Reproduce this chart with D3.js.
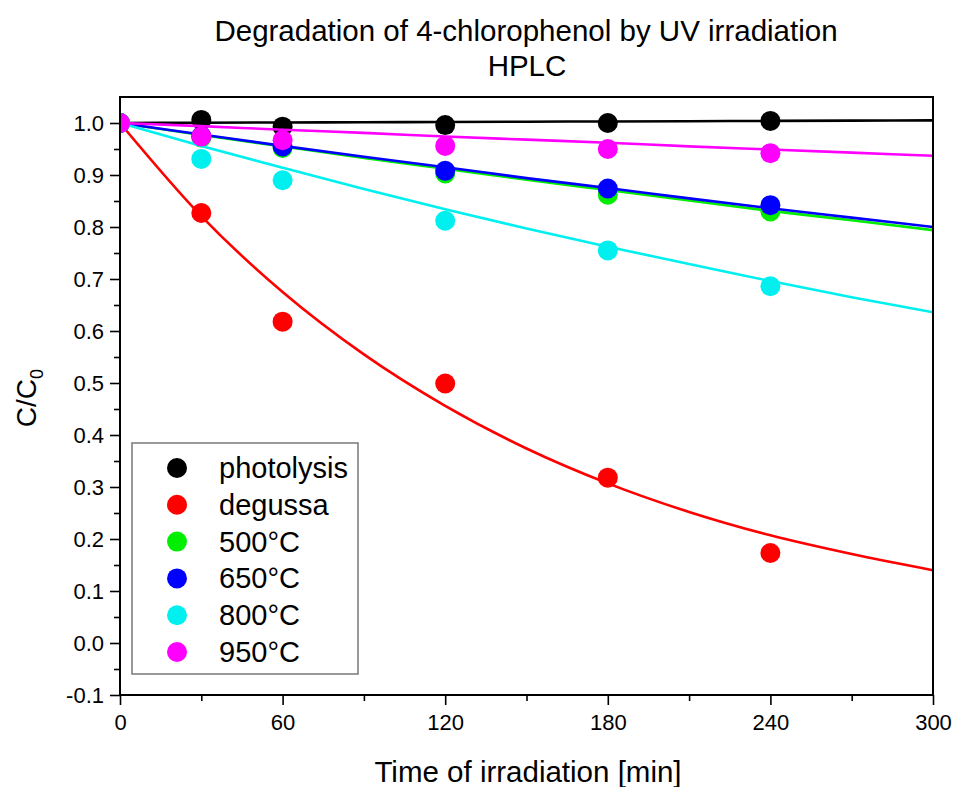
<!DOCTYPE html>
<html>
<head>
<meta charset="utf-8">
<script src="https://cdn.jsdelivr.net/npm/d3@7"></script>
<style>
  html, body { margin: 0; padding: 0; background: #fff; }
  svg { display: block; font-family: "Liberation Sans", Arial, sans-serif; }
</style>
</head>
<body>
<svg id="chart" width="957" height="787"></svg>
<script>
// Sampling times [min]
const times = [0, 30, 60, 120, 180, 240];

// Measured C/C0 for each sample
const photolysis = [1.0, 1.006, 0.993, 0.996, 1.0, 1.004];
const degussa    = [1.0, 0.827, 0.618, 0.499, 0.318, 0.173];
const t500       = [1.0, 0.972, 0.952, 0.903, 0.862, 0.830];
const t650       = [1.0, 0.975, 0.955, 0.908, 0.874, 0.842];
const t800       = [1.0, 0.931, 0.890, 0.812, 0.755, 0.686];
const t950       = [1.0, 0.974, 0.967, 0.956, 0.950, 0.942];

// Kinetic fit curves, sampled along time
const fitTimes      = [0, 30, 60, 90, 120, 150, 180, 210, 240, 270, 300];
const fitPhotolysis = [1.0, 1.0005, 1.001, 1.0015, 1.002, 1.0025, 1.003, 1.0035, 1.004, 1.0045, 1.005];
const fitDegussa    = [1.0, 0.821, 0.675, 0.555, 0.456, 0.374, 0.307, 0.252, 0.207, 0.171, 0.140];
const fit500        = [1.0, 0.977, 0.955, 0.933, 0.912, 0.891, 0.871, 0.851, 0.831, 0.813, 0.794];
const fit650        = [1.0, 0.978, 0.956, 0.935, 0.915, 0.894, 0.875, 0.855, 0.836, 0.818, 0.800];
const fit800        = [1.0, 0.956, 0.914, 0.873, 0.834, 0.797, 0.762, 0.729, 0.696, 0.665, 0.636];
const fit950        = [1.0, 0.994, 0.987, 0.981, 0.974, 0.968, 0.962, 0.955, 0.949, 0.943, 0.937];

const seriesNames = ["photolysis", "degussa", "500°C", "650°C", "800°C", "950°C"];
const seriesColors = ["#000000", "#ff0000", "#00ee00", "#0000ff", "#00f0f0", "#ff00ff"];
const pointSets = [photolysis, degussa, t500, t650, t800, t950];
const fitSets = [fitPhotolysis, fitDegussa, fit500, fit650, fit800, fit950];

const xTicks = [0, 60, 120, 180, 240, 300];
const yTicks = [-0.1, 0.0, 0.1, 0.2, 0.3, 0.4, 0.5, 0.6, 0.7, 0.8, 0.9, 1.0];

const svg = d3.select("#chart");
const plotLeft = 120, plotRight = 933, plotTop = 97, plotBottom = 695;

const x = d3.scaleLinear().domain([0, 300]).range([plotLeft, plotRight]);
const y = d3.scaleLinear().domain([-0.1, 1.05]).range([plotBottom, plotTop]);

// Title
svg.append("text").attr("x", 526).attr("y", 41)
  .attr("text-anchor", "middle").attr("font-size", 29.5)
  .text("Degradation of 4-chlorophenol by UV irradiation");
svg.append("text").attr("x", 527).attr("y", 76)
  .attr("text-anchor", "middle").attr("font-size", 29.5)
  .text("HPLC");

// Clip region for the curves
svg.append("clipPath").attr("id", "plotClip")
  .append("rect").attr("x", plotLeft).attr("y", plotTop)
  .attr("width", plotRight - plotLeft).attr("height", plotBottom - plotTop);

const plot = svg.append("g").attr("clip-path", "url(#plotClip)");

const line = d3.line()
  .x(d => x(d[0])).y(d => y(d[1]))
  .curve(d3.curveMonotoneX);

seriesNames.forEach((name, i) => {
  const fit = fitTimes.map((t, j) => [t, fitSets[i][j]]);
  plot.append("path").datum(fit)
    .attr("d", line)
    .attr("fill", "none")
    .attr("stroke", seriesColors[i])
    .attr("stroke-width", 2.6);
  plot.selectAll(null)
    .data(times.map((t, j) => [t, pointSets[i][j]]))
    .enter().append("circle")
    .attr("cx", d => x(d[0])).attr("cy", d => y(d[1]))
    .attr("r", 10)
    .attr("fill", seriesColors[i]);
});

// Axes
const fmtY = d => d.toFixed(1);
const xAxis = d3.axisBottom(x).tickValues(xTicks).tickSize(10).tickPadding(9)
  .tickFormat(d3.format("d"));
const xMinor = d3.axisBottom(x).tickValues([30, 90, 150, 210, 270]).tickSize(6).tickFormat("");
const yAxis = d3.axisLeft(y).tickValues(yTicks).tickSize(10).tickPadding(6)
  .tickFormat(fmtY);
const yMinor = d3.axisLeft(y).tickValues(d3.range(-0.05, 1.0, 0.1)).tickSize(6).tickFormat("");

function styleAxis(g) {
  g.select(".domain").remove();
  g.selectAll(".tick line").attr("stroke", "#000").attr("stroke-width", 1.6);
  g.selectAll(".tick text").attr("font-size", 22).attr("fill", "#000")
    .attr("font-family", "'Liberation Sans', Arial, sans-serif");
}

svg.append("g").attr("transform", `translate(0,${plotBottom})`).call(xAxis).call(styleAxis);
svg.append("g").attr("transform", `translate(0,${plotBottom})`).call(xMinor).call(styleAxis);
svg.append("g").attr("transform", `translate(${plotLeft},0)`).call(yAxis).call(styleAxis);
svg.append("g").attr("transform", `translate(${plotLeft},0)`).call(yMinor).call(styleAxis);

// Plot frame
svg.append("rect").attr("x", plotLeft).attr("y", plotTop)
  .attr("width", plotRight - plotLeft).attr("height", plotBottom - plotTop)
  .attr("fill", "none").attr("stroke", "#000").attr("stroke-width", 2);

// Axis titles
svg.append("text").attr("x", 528).attr("y", 782)
  .attr("text-anchor", "middle").attr("font-size", 29.5)
  .text("Time of irradiation [min]");

const yl = svg.append("text")
  .attr("transform", "translate(36,398) rotate(-90)")
  .attr("text-anchor", "middle").attr("font-size", 28);
yl.append("tspan").text("C/C");
yl.append("tspan").attr("font-size", 18).attr("dy", 7).text("0");

// Legend
const lg = svg.append("g");
lg.append("rect").attr("x", 132).attr("y", 443).attr("width", 226).attr("height", 231)
  .attr("fill", "#fff").attr("stroke", "#808080").attr("stroke-width", 1.6);
seriesNames.forEach((name, i) => {
  const cy = 468 + i * 36.8;
  lg.append("circle").attr("cx", 177).attr("cy", cy).attr("r", 10)
    .attr("fill", seriesColors[i]);
  lg.append("text").attr("x", 219).attr("y", cy + 10)
    .attr("font-size", 29).attr("fill", "#000").text(name);
});
</script>
</body>
</html>
